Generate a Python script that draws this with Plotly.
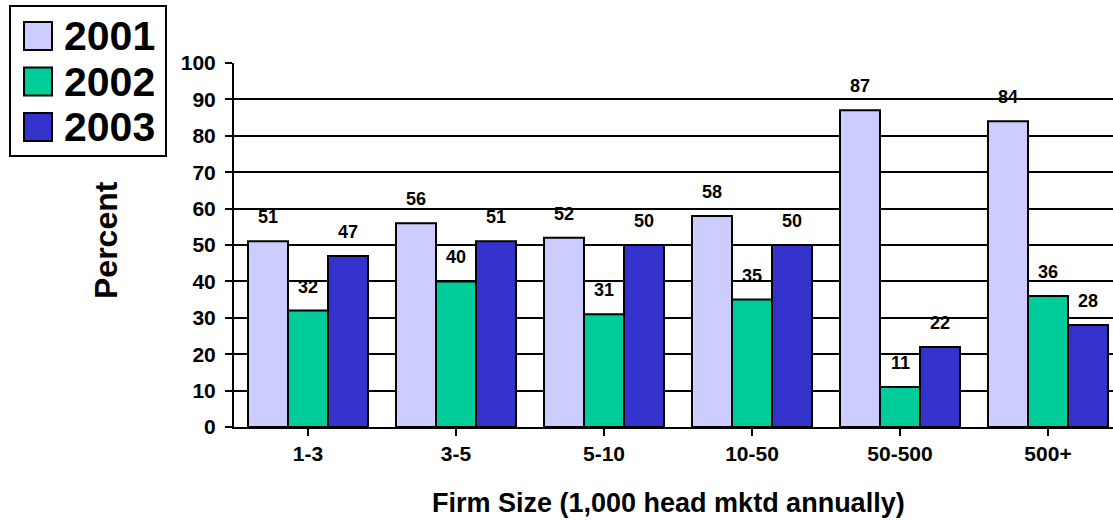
import plotly.graph_objects as go

# data
sizes = ["1-3", "3-5", "5-10", "10-50", "50-500", "500+"]
years = ["2001", "2002", "2003"]
pct_2001 = [51, 56, 52, 58, 87, 84]
pct_2002 = [32, 40, 31, 35, 11, 36]
pct_2003 = [47, 51, 50, 50, 22, 28]
colors = ["#CCCCFF", "#00CC99", "#3333CC"]

W, H = 1113, 520
L, R, T, B = 234, 0, 63, 93
pw, ph = W - L - R, H - T - B
cat_px = 148
gap = 28 / cat_px
font = "Liberation Sans, Arial, sans-serif"


def px(x):
    return (x - L) / pw


def py(y):
    return (H - B - y) / ph


fig = go.Figure()
series = [pct_2001, pct_2002, pct_2003]
for name, vals, c in zip(years, series, colors):
    fig.add_trace(go.Bar(x=list(range(len(sizes))), y=vals, name=name,
                         marker=dict(color=c, line=dict(color="black", width=2)),
                         showlegend=False))

# value labels above bars
w = (1 - gap) / 3
ann = []
for j, vals in enumerate(series):
    for i, v in enumerate(vals):
        ann.append(dict(x=i + (j - 1) * w, y=v, xref="x", yref="y", text="<b>%d</b>" % v,
                        showarrow=False, yanchor="middle", yshift=24,
                        font=dict(family=font, size=18, color="black")))

# axis titles
ann.append(dict(x=px(106), y=py(240), xref="paper", yref="paper", text="<b>Percent</b>",
                showarrow=False, textangle=-90, xanchor="center", yanchor="middle",
                font=dict(family=font, size=32, color="black")))
ann.append(dict(x=px(668), y=py(503), xref="paper", yref="paper",
                text="<b>Firm Size (1,000 head mktd annually)</b>",
                showarrow=False, xanchor="center", yanchor="middle",
                font=dict(family=font, size=27, color="black")))

# legend drawn by hand
shapes = [dict(type="rect", xref="paper", yref="paper", x0=px(10), x1=px(166),
               y0=py(6), y1=py(156), line=dict(color="black", width=2), fillcolor="white")]
for k, (name, c) in enumerate(zip(years, colors)):
    top = 22 + k * 45.5
    shapes.append(dict(type="rect", xref="paper", yref="paper", x0=px(24), x1=px(52),
                       y0=py(top), y1=py(top + 28), line=dict(color="black", width=2),
                       fillcolor=c))
    ann.append(dict(x=px(62), y=py(top + 14), xref="paper", yref="paper", text="<b>%s</b>" % name,
                    showarrow=False, xanchor="left", yanchor="middle",
                    font=dict(family=font, size=41, color="black")))

fig.update_layout(
    width=W, height=H, margin=dict(l=L, r=R, t=T, b=B),
    barmode="group", bargap=gap, bargroupgap=0,
    plot_bgcolor="white", paper_bgcolor="white",
    annotations=ann, shapes=shapes,
    font=dict(family=font, color="black"),
)
fig.update_xaxes(range=[-0.5, -0.5 + pw / cat_px], tickmode="array",
                 tickvals=list(range(len(sizes))), ticktext=["<b>%s</b>" % s for s in sizes],
                 showline=True, linecolor="black", linewidth=2, ticks="outside",
                 ticklen=7, tickwidth=2, tickcolor="black", showgrid=False,
                 tickfont=dict(size=21), ticklabelstandoff=0, zeroline=False)
fig.update_yaxes(range=[0, 100], tickvals=list(range(0, 101, 10)),
                 ticktext=["<b>%d</b>" % v for v in range(0, 101, 10)],
                 showline=True, linecolor="black", linewidth=2, ticks="outside",
                 ticklen=7, tickwidth=2, tickcolor="black", showgrid=True,
                 gridcolor="black", gridwidth=2, zeroline=False,
                 tickfont=dict(size=21), ticklabelstandoff=5)

fig.write_html("out.html", config={"displayModeBar": False},
               post_script="document.body.style.margin='0';")
